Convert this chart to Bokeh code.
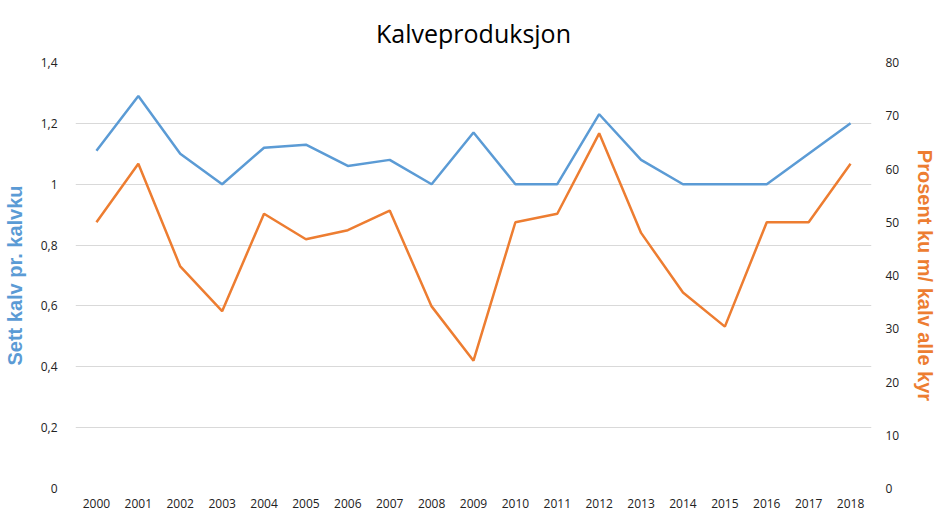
from bokeh.plotting import figure
from bokeh.models import Range1d, FactorRange, LinearAxis, FixedTicker, CustomJSTickFormatter
from bokeh.embed import file_html
from bokeh.resources import INLINE

years = [str(y) for y in range(2000, 2019)]
sett_kalv = [1.11, 1.29, 1.10, 1.00, 1.12, 1.13, 1.06, 1.08, 1.00, 1.17,
             1.00, 1.00, 1.23, 1.08, 1.00, 1.00, 1.00, 1.10, 1.20]
prosent_ku = [50.0, 61.0, 41.7, 33.3, 51.6, 46.8, 48.5, 52.2, 34.2, 24.0,
              50.0, 51.6, 66.7, 48.0, 36.8, 30.4, 50.0, 50.0, 61.0]
left_ticks = [0, 0.2, 0.4, 0.6, 0.8, 1.0, 1.2, 1.4]
right_ticks = [0, 10, 20, 30, 40, 50, 60, 70, 80]

BLUE = "#5b9bd5"
ORANGE = "#ed7d31"
FONT = "Open Sans"

p = figure(frame_width=796, frame_height=426, x_range=FactorRange(*years), y_range=Range1d(0, 1.4),
           output_backend="svg", toolbar_location=None, title="Kalveproduksjon",
           min_border_left=68, min_border_right=60, min_border_bottom=16, min_border_top=10)
p.extra_y_ranges = {"pct": Range1d(0, 80)}

p.title.align = "center"
p.title.text_font = FONT
p.title.text_font_size = "25px"
p.title.text_font_style = "normal"
p.title.text_color = "#000000"
p.title.standoff = 26

p.outline_line_color = None
p.xgrid.grid_line_color = None
p.ygrid.grid_line_color = "#d9d9d9"
p.ygrid.grid_line_width = 1

p.line(years, sett_kalv, line_color=BLUE, line_width=2.5)
p.line(years, prosent_ku, line_color=ORANGE, line_width=2.5, y_range_name="pct")

for ax in [p.xaxis[0], p.yaxis[0]]:
    ax.axis_line_color = None
    ax.major_tick_line_color = None
    ax.minor_tick_line_color = None
    ax.major_label_text_font = FONT
    ax.major_label_text_font_size = "12px"
    ax.major_label_text_color = "#222222"

p.xaxis.major_label_standoff = 4
p.yaxis.ticker = FixedTicker(ticks=left_ticks)
p.yaxis.formatter = CustomJSTickFormatter(code="return tick.toFixed(1).replace('.', ',').replace(',0', '');")
p.yaxis.major_label_standoff = 12
p.yaxis.axis_label = "Sett kalv pr. kalvku"
p.yaxis.axis_label_text_font = "Liberation Sans"
p.yaxis.axis_label_text_font_size = "20px"
p.yaxis.axis_label_text_font_style = "bold"
p.yaxis.axis_label_text_color = BLUE
p.yaxis.axis_label_standoff = 12

ra = LinearAxis(y_range_name="pct", ticker=FixedTicker(ticks=right_ticks))
ra.axis_line_color = None
ra.major_tick_line_color = None
ra.minor_tick_line_color = None
ra.major_label_text_font = FONT
ra.major_label_text_font_size = "12px"
ra.major_label_text_color = "#222222"
ra.major_label_standoff = 8
ra.axis_label = "Prosent ku m/ kalv alle kyr"
ra.axis_label_text_font = "Liberation Sans"
ra.axis_label_text_font_size = "20px"
ra.axis_label_text_font_style = "bold"
ra.axis_label_text_color = ORANGE
ra.axis_label_standoff = 12
p.add_layout(ra, "right")

open("out.html", "w").write(file_html(p, INLINE))
